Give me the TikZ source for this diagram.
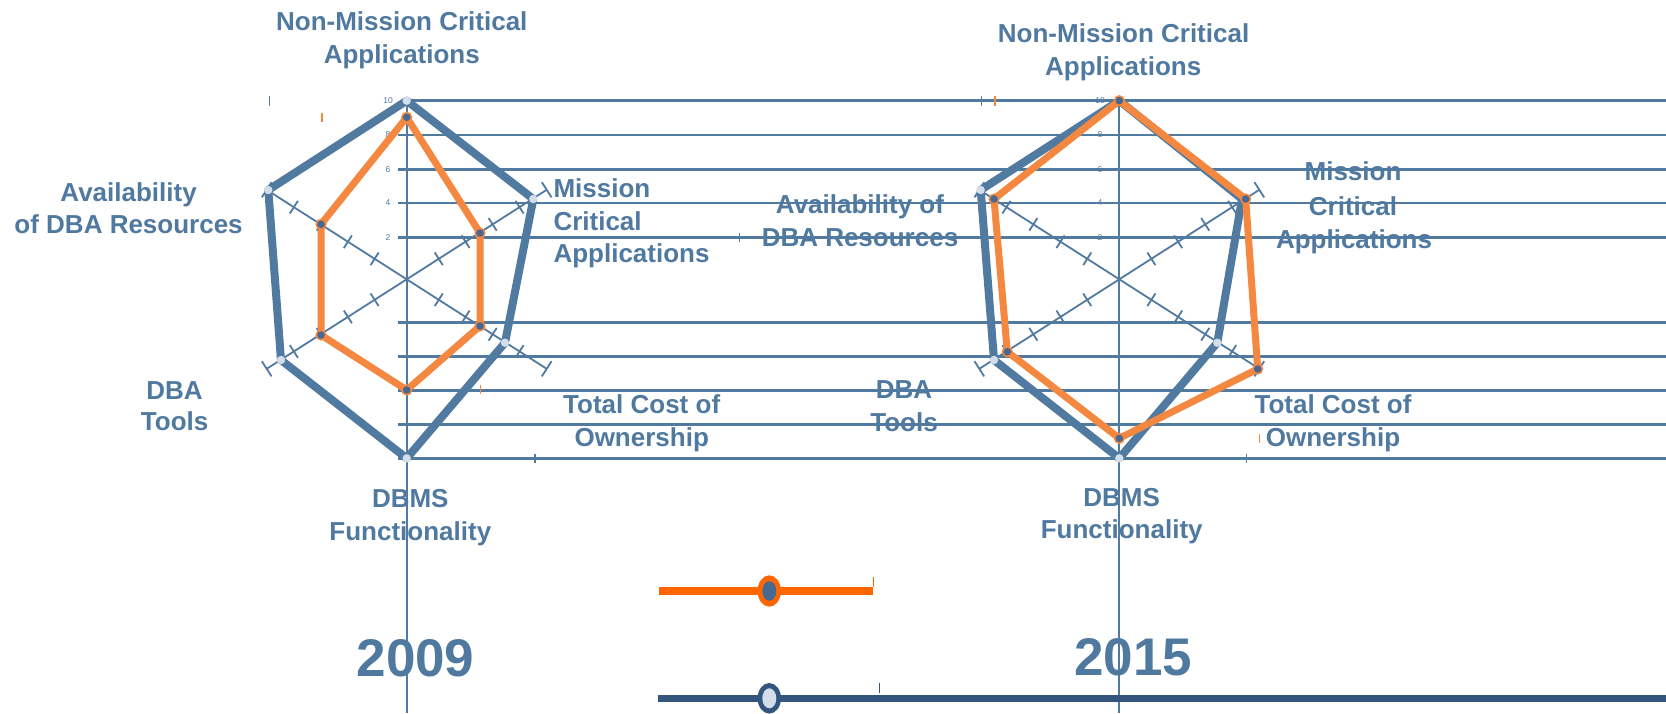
\documentclass[tikz,border=0pt]{standalone}
\usepackage{fontspec}
\setmainfont{Liberation Sans}
\usetikzlibrary{calc}
\definecolor{tblue}{RGB}{80,121,160}
\definecolor{pblue}{RGB}{81,122,161}
\definecolor{porange}{RGB}{245,136,64}
\definecolor{sorange}{RGB}{255,102,0}
\definecolor{sblue}{RGB}{52,86,126}
\definecolor{vlight}{RGB}{212,222,234}
\definecolor{dotblue}{RGB}{70,104,145}
\tikzset{
  lbl/.style={font=\fontsize{26}{30}\selectfont\bfseries, text=tblue, inner sep=0pt, anchor=base},
  lblw/.style={lbl, anchor=base west},
  yearlbl/.style={font=\fontsize{53}{60}\selectfont\bfseries, text=tblue, inner sep=0pt, anchor=base},
  scalelbl/.style={font=\fontsize{8.5}{9}\selectfont, text=tblue, inner sep=0pt},
  gridln/.style={draw=pblue, line width=2.6},
  axisln/.style={draw=pblue, line width=1.8},
  smalltick/.style={line width=1.4},
  bluepoly/.style={draw=pblue, line width=8, line join=round},
  orangepoly/.style={draw=porange, line width=7, line join=round},
}
\newcommand\radaraxes[1]{%
  \foreach \ex/\ey/\px/\py in {140/-89.5/4.04/6.32, 140/89.5/-4.04/6.32, -140/89.5/4.04/6.32, -140/-89.5/-4.04/6.32}{%
    \draw[axisln] (#1) -- ($(#1)+(\ex,\ey)$);
    \foreach \t in {0.229,0.42,0.614,0.806}{%
      \draw[axisln] ($(#1)+({\t*(\ex)},{\t*(\ey)})+(\px,\py)$) -- ++({-2*(\px)},{-2*(\py)});
    }
    \draw[axisln] ($(#1)+(\ex,\ey)+({1.2*(\px)},{1.2*(\py)})$) -- ++({-2.4*(\px)},{-2.4*(\py)});
  }%
}
\newcommand\bluevtx[1]{\fill[vlight] (#1) circle (4.2);}
\newcommand\orangevtx[1]{\fill[porange] (#1) circle (5.6); \fill[dotblue] (#1) circle (3.8);}
\begin{document}
\begin{tikzpicture}[x=1pt,y=-1pt]
\useasboundingbox[fill=white] (0,0) rectangle (1666,713);

% ---------- labels (drawn first, lines go over them) ----------
% chart 1
\node[lbl] (a1t1) at (401.8,30.7) {Non-Mission Critical};
\node[lbl] (a1t2) at (401.8,63) {Applications};
\node[lbl] (a1l1) at (128.6,201) {Availability};
\node[lbl] (a1l2) at (128.6,233) {of DBA Resources};
\node[lblw] (a1r1) at (553.3,197.5) {Mission};
\node[lblw] (a1r2) at (553.3,230.5) {Critical};
\node[lblw] (a1r3) at (553.3,262.7) {Applications};
\node[lbl] (a1c1) at (641.7,413.3) {Total Cost of};
\node[lbl] (a1c2) at (641.7,446) {Ownership};
\node[lbl] (a1d1) at (174.6,399) {DBA};
\node[lbl] (a1d2) at (174.6,430.7) {Tools};
\node[lbl] (a1f1) at (410.3,507.7) {DBMS};
\node[lbl] (a1f2) at (410.3,540) {Functionality};
\node[yearlbl] (y1) at (415.5,676.7) {2009};
% chart 2
\node[lbl] (a2t1) at (1123.6,42.7) {Non-Mission Critical};
\node[lbl] (a2t2) at (1123.2,75) {Applications};
\node[lbl] (a2l1) at (860,213) {Availability of};
\node[lbl] (a2l2) at (860,246) {DBA Resources};
\node[lbl] (a2r1) at (1353,180.7) {Mission};
\node[lbl] (a2r2) at (1353,215) {Critical};
\node[lbl] (a2r3) at (1354,248.3) {Applications};
\node[lbl] (a2c1) at (1333,413.3) {Total Cost of};
\node[lbl] (a2c2) at (1333,446.5) {Ownership};
\node[lbl] (a2d1) at (904,398.3) {DBA};
\node[lbl] (a2d2) at (904,431.7) {Tools};
\node[lbl] (a2f1) at (1121.7,506.7) {DBMS};
\node[lbl] (a2f2) at (1121.7,538.7) {Functionality};
\node[yearlbl] (y2) at (1133.3,675) {2015};

% scale numbers
\foreach \v/\yy in {10/100.7,8/135,6/169.3,4/203,2/237.3}{
  \node[scalelbl] (sa\v) at (388,\yy) {\v};
  \node[scalelbl] (sb\v) at (1100,\yy) {\v};
}

% ---------- grid lines ----------
\coordinate (g10s) at (406.7,100.7); \coordinate (g10e) at (1666,100.7);
\draw[gridln] (g10s) -- (g10e);
\foreach \yy in {135,169.3,203,237.3,322.3,356.5,390.5,424.3,458.3}{
  \draw[gridln] (398,\yy) -- (1666,\yy);
}

% ---------- axes ----------
\coordinate (c1) at (406.7,279.3);
\coordinate (c2) at (1119.3,279.3);
\coordinate (top1) at (406.7,100.7);
\coordinate (top2) at (1119.3,100.7);
\coordinate (bot1) at (406.7,713);
\coordinate (bot2) at (1119.3,713);
\draw[axisln] (top1) -- (bot1);
\draw[axisln] (top2) -- (bot2);
\radaraxes{c1}
\radaraxes{c2}

% ---------- small ticks ----------
\draw[smalltick, pblue] (269.5,96) -- (269.5,105.5);
\draw[smalltick, porange] (322,112.5) -- (322,122);
\draw[smalltick, porange] (480.7,384.5) -- (480.7,394);
\draw[smalltick, pblue] (535,453.5) -- (535,463);
\draw[smalltick, pblue] (739.5,232.5) -- (739.5,242);
\draw[smalltick, pblue] (981.7,96) -- (981.7,105.5);
\draw[smalltick, porange] (995,96) -- (995,105.5);
\draw[smalltick, porange] (1259.3,433.5) -- (1259.3,443);
\draw[smalltick, pblue] (1246.7,453.5) -- (1246.7,463);

% ---------- chart 1 data ----------
\coordinate (b1a) at (406.7,100.7);
\coordinate (b1b) at (533.3,199);
\coordinate (b1c) at (505,342.7);
\coordinate (b1d) at (406.7,458.3);
\coordinate (b1e) at (281,360);
\coordinate (b1f) at (268.3,190);
\draw[bluepoly] (b1a) -- (b1b) -- (b1c) -- (b1d) -- (b1e) -- (b1f) -- cycle;
\coordinate (o1a) at (406.7,117.3);
\coordinate (o1b) at (480,233);
\coordinate (o1c) at (480,326);
\coordinate (o1d) at (406.7,390);
\coordinate (o1e) at (321,335);
\coordinate (o1f) at (321,224.3);
\draw[orangepoly] (o1a) -- (o1b) -- (o1c) -- (o1d) -- (o1e) -- (o1f) -- cycle;
\foreach \p in {b1a,b1b,b1c,b1d,b1e,b1f}{\bluevtx{\p}}
\foreach \p in {o1a,o1b,o1c,o1d,o1e,o1f}{\orangevtx{\p}}

% ---------- chart 2 data ----------
\coordinate (b2a) at (1119.3,100.7);
\coordinate (b2b) at (1242,199);
\coordinate (b2c) at (1217.3,342.7);
\coordinate (b2d) at (1119.3,458.3);
\coordinate (b2e) at (994,360);
\coordinate (b2f) at (980.7,190);
\draw[bluepoly] (b2a) -- (b2b) -- (b2c) -- (b2d) -- (b2e) -- (b2f) -- cycle;
\foreach \p in {b2c,b2d,b2e,b2f}{\bluevtx{\p}}
\coordinate (o2a) at (1119.3,100.7);
\coordinate (o2b) at (1245.7,199);
\coordinate (o2c) at (1257.7,369);
\coordinate (o2d) at (1119.3,438.3);
\coordinate (o2e) at (1007.3,351.7);
\coordinate (o2f) at (994,199);
\draw[orangepoly] (o2a) -- (o2b) -- (o2c) -- (o2d) -- (o2e) -- (o2f) -- cycle;
\foreach \p in {o2a,o2b,o2c,o2d,o2e,o2f}{\orangevtx{\p}}

% ---------- sliders ----------
\coordinate (s1l) at (659.3,591); \coordinate (s1r) at (872.7,591); \coordinate (k1) at (769.3,591);
\draw[sorange, line width=8] (s1l) -- (s1r);
\fill[sorange] (k1) ellipse (11.7 and 15.7);
\fill[dotblue] (k1) ellipse (7 and 9.7);
\draw[smalltick, sorange] (873.3,577) -- (873.3,586.5);
\coordinate (s2l) at (658.3,698.3); \coordinate (s2r) at (1666,698.3); \coordinate (k2) at (769.3,698.3);
\draw[sblue, line width=7.5] (s2l) -- (s2r);
\fill[sblue] (k2) ellipse (11.7 and 15.3);
\fill[vlight] (k2) ellipse (7 and 10);
\draw[smalltick, sblue] (879.3,683) -- (879.3,692.5);
\end{tikzpicture}
\end{document}
